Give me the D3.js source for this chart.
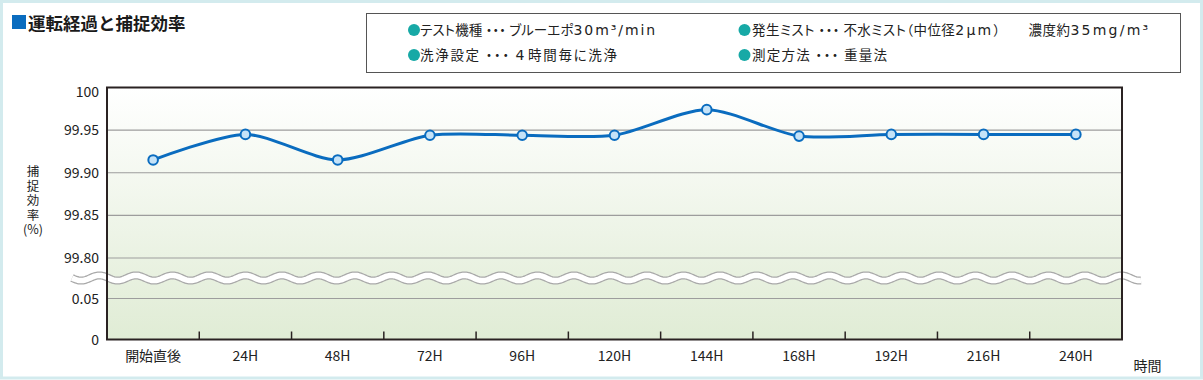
<!DOCTYPE html>
<html><head><meta charset="utf-8">
<script src="https://cdn.jsdelivr.net/npm/d3@7"></script>
<style>
html,body{margin:0;padding:0;background:#fff;}
svg{display:block;font-family:"Noto Sans CJK JP","Noto Sans",sans-serif;}
.lg{font-feature-settings:"palt";}
</style></head>
<body>
<svg id="chart" width="1203" height="380"></svg>
<script>
const categories = ["開始直後","24H","48H","72H","96H","120H","144H","168H","192H","216H","240H"];
const efficiency = [99.915, 99.945, 99.915, 99.944, 99.944, 99.944, 99.974, 99.943, 99.945, 99.945, 99.945];
const yTicks = [0, 0.05, 99.80, 99.85, 99.90, 99.95, 100];
const yTickLabels = ["0","0.05","99.80","99.85","99.90","99.95","100"];
const legendItems = [
  ["テスト機種 ・・・ ブルーエポ30m³/min", "発生ミスト ・・・ 不水ミスト（中位径2μm）　　濃度約35mg/m³"],
  ["洗浄設定 ・・・ 4時間毎に洗浄", "測定方法 ・・・ 重量法"]
];
const titleText = "運転経過と捕捉効率";
const yTitle = ["捕捉効率", "(%)"];
const xTitle = "時間";

const svg = d3.select("#chart");
const W = 1203, H = 380;
const pL = 107, pR = 1122, pT = 87.5, pB = 339.5;

// outer frame
svg.append("rect").attr("x",1.5).attr("y",1.5).attr("width",W-3).attr("height",H-3.5)
  .attr("fill","#fff").attr("stroke","#d3ebee").attr("stroke-width",3);

// title
svg.append("rect").attr("x",12).attr("y",15).attr("width",14).attr("height",14).attr("fill","#0a6cbf");
svg.append("text").attr("x",28).attr("y",29.5).attr("font-size",17.5).attr("font-weight","bold")
  .attr("fill","#1a1a1a").text(titleText);

// legend box
svg.append("rect").attr("x",366.5).attr("y",13.5).attr("width",814).attr("height",59)
  .attr("fill","#fff").attr("stroke","#555").attr("stroke-width",1);
const bulletX = [414, 744.5], textX = [420, 752], rowY = [30, 55];
const itemW = [[237, 398],[197, 135]];
function addRuns(textSel, s){
  const re = /([\x21-\x7E³μ]+)|([^\x21-\x7E³μ]+)/g;
  let m;
  while((m = re.exec(s)) !== null){
    const ts = textSel.append("tspan").text(m[0]);
    if(m[1]) ts.attr("font-family","DejaVu Sans").attr("font-size",14).attr("letter-spacing",1.8);
  }
}
legendItems.forEach((row,ri)=>row.forEach((t,ci)=>{
  svg.append("circle").attr("cx",bulletX[ci]).attr("cy",rowY[ri]).attr("r",6).attr("fill","#17a9a6");
  const tx = svg.append("text").attr("class","lg").attr("x",textX[ci]).attr("y",rowY[ri]+5)
    .attr("font-size",13.5).attr("fill","#222")
    .attr("xml:space","preserve").style("white-space","pre")
    .attr("textLength", itemW[ri][ci]).attr("lengthAdjust","spacing");
  addRuns(tx, t);
}));

// scales
const x = d3.scalePoint().domain(categories).range([pL, pR]).padding(0.5);
const y = d3.scaleLinear().domain([0, 0.05, 99.80, 100]).range([pB, 298.5, 258, pT]);

// background gradient
const defs = svg.append("defs");
const grad = defs.append("linearGradient").attr("id","bg").attr("x1",0).attr("y1",0).attr("x2",0).attr("y2",1);
grad.append("stop").attr("offset","0%").attr("stop-color","#ffffff");
grad.append("stop").attr("offset","100%").attr("stop-color","#e0ecd5");
svg.append("rect").attr("x",pL).attr("y",pT).attr("width",pR-pL).attr("height",pB-pT).attr("fill","url(#bg)");

// gridlines
svg.append("g").selectAll("line").data(yTicks.filter(d=>d!==0 && d!==100)).join("line")
  .attr("x1",pL).attr("x2",pR).attr("y1",d=>y(d)).attr("y2",d=>y(d))
  .attr("stroke","#9d9d9d").attr("stroke-width",1.2);

// wave break
const waveY = 278, amp = 2.6, period = 36.5, x0 = 72, x1 = 1141;
const wpts = d3.range(x0, x1+0.5, 1).map(px=>[px, waveY + amp*Math.sin((px-x0)/period*2*Math.PI)]);
const wline = d3.line();
svg.append("path").attr("d",wline(wpts)).attr("fill","none").attr("stroke","#a9a9a9").attr("stroke-width",8);
svg.append("path").attr("d",wline(wpts)).attr("fill","none").attr("stroke","#ffffff").attr("stroke-width",5.5);

// plot border
svg.append("rect").attr("x",pL).attr("y",pT).attr("width",pR-pL).attr("height",pB-pT)
  .attr("fill","none").attr("stroke","#2a2222").attr("stroke-width",2);

// x ticks at band boundaries
const step = x.step();
svg.append("g").selectAll("line").data(categories.slice(1)).join("line")
  .attr("x1",d=>x(d)-step/2).attr("x2",d=>x(d)-step/2).attr("y1",pB).attr("y2",pB-8)
  .attr("stroke","#2a2222").attr("stroke-width",1.5);

// y labels
svg.append("g").selectAll("text").data(yTicks).join("text")
  .attr("x",99).attr("y",d=>Math.max(y(d),91.5)+5).attr("text-anchor","end").attr("font-size",14).attr("fill","#222")
  .text((d,i)=>yTickLabels[i]);

// x labels
svg.append("g").selectAll("text").data(categories).join("text")
  .attr("x",d=>x(d)).attr("y",361).attr("text-anchor","middle").attr("font-size",14).attr("fill","#222")
  .text(d=>d);
svg.append("text").attr("x",1147.5).attr("y",371).attr("text-anchor","middle").attr("font-size",14).attr("fill","#222").text(xTitle);

// y title: vertical characters + unit
svg.append("text").attr("x",33).attr("y",165).attr("font-size",12.5).attr("fill","#222")
  .attr("writing-mode","vertical-rl").attr("letter-spacing",2).text(yTitle[0]);
svg.append("text").attr("x",33).attr("y",234).attr("text-anchor","middle").attr("font-size",12.5).attr("fill","#222").text(yTitle[1]);

// line
const data = categories.map((c,i)=>({c, v: efficiency[i]}));
svg.append("path").datum(data)
  .attr("d", d3.line().x(d=>x(d.c)).y(d=>y(d.v)).curve(d3.curveCardinal.tension(0.2)))
  .attr("fill","none").attr("stroke","#0a6cbf").attr("stroke-width",3);
svg.append("g").selectAll("circle").data(data).join("circle")
  .attr("cx",d=>x(d.c)).attr("cy",d=>y(d.v)).attr("r",4.8)
  .attr("fill","#c5e3f8").attr("stroke","#0a6cbf").attr("stroke-width",2);
</script>
</body></html>
